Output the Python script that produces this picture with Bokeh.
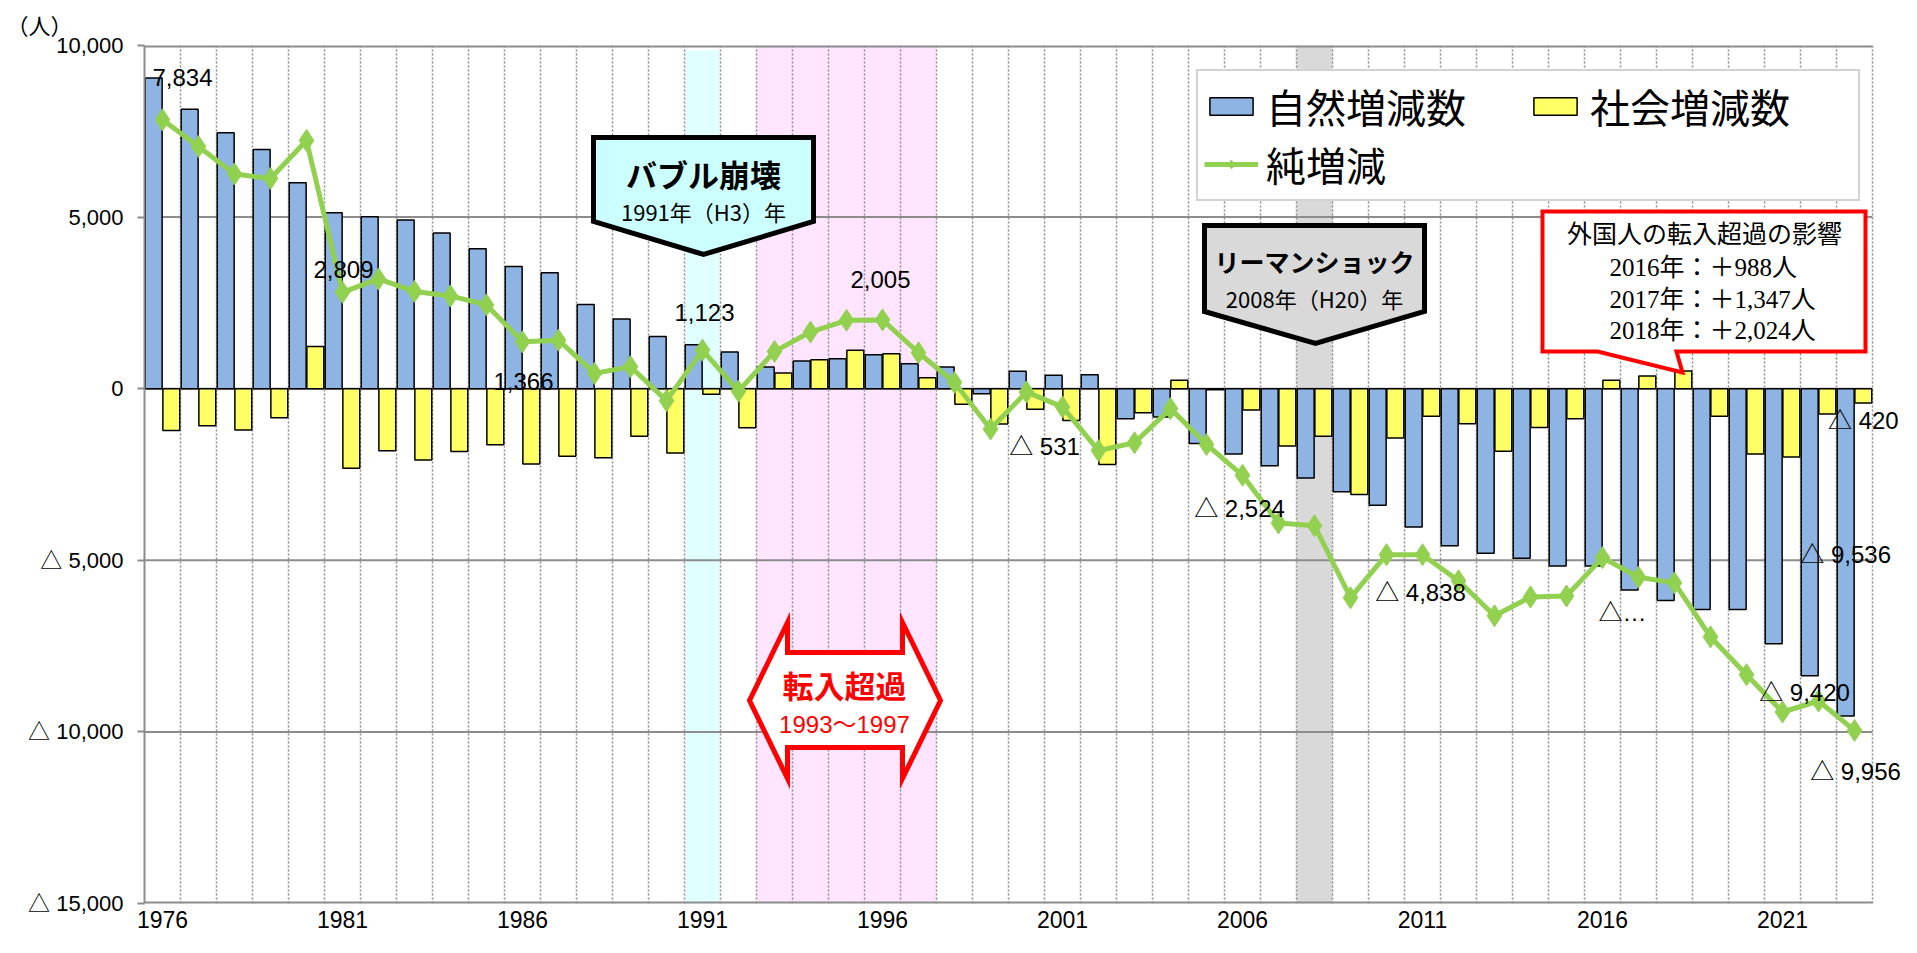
from bokeh.plotting import figure
from bokeh.models import (Range1d, FixedTicker, ColumnDataSource, Legend, LegendItem,
                          PolyAnnotation, Label, BoxAnnotation)
from bokeh.transform import dodge
from bokeh.core.properties import value
from bokeh.embed import file_html
from bokeh.resources import INLINE

# ---------------- data ----------------
years = list(range(1976, 2024))
natural = [9050, 8140, 7460, 6970, 6000, 5124, 5010, 4913, 4534, 4078,
           3557, 3379, 2456, 2029, 1524, 1282, 1068, 631, 806, 874,
           990, 728, 631, -146, 505, 395, 408, -874, -823, -1595,
           -1903, -2243, -2603, -3004, -3395, -4033, -4578, -4794, -4938, -5165,
           -5165, -5864, -6173, -6430, -6430, -7428, -8364, -9536]
social = [-1216, -1080, -1204, -844, 1233, -2315, -1811, -2078, -1831, -1636,
          -2191, -1965, -2010, -1389, -1872, -159, -1140, 456, 845, 1117,
          1015, 320, -450, -1030, -600, -926, -2212, -700, 243, -30,
          -621, -1667, -1389, -3086, -1440, -805, -1020, -1821, -1132, -874,
          243, 369, 515, -802, -1903, -1992, -736, -420]
net = [7834, 7060, 6256, 6126, 7233, 2809, 3199, 2835, 2703, 2442,
       1366, 1414, 446, 640, -348, 1123, -72, 1087, 1651, 1991,
       2005, 1048, 181, -1176, -95, -531, -1804, -1574, -580, -1625,
       -2524, -3910, -3992, -6090, -4835, -4838, -5598, -6615, -6070, -6039,
       -4922, -5495, -5658, -7232, -8333, -9420, -9100, -9956]

series_names = ["自然増減数", "社会増減数", "純増減"]
x_tick_years = [1976, 1981, 1986, 1991, 1996, 2001, 2006, 2011, 2016, 2021]
x_tick_labels = ["1976", "1981", "1986", "1991", "1996", "2001", "2006", "2011", "2016", "2021"]
y_ticks = [-15000, -10000, -5000, 0, 5000, 10000]
y_tick_labels = ["△ 15,000", "△ 10,000", "△ 5,000", "0", "5,000", "10,000"]

net_label_years = [1976, 1981, 1986, 1991, 1996, 2001, 2006, 2011, 2016, 2021, 2023]
truncated_label = {2016: "△…"}
bubble_year = 1991
inflow_period = (1993, 1997)
lehman_year = 2008

# ---------------- styling / layout ----------------
JP = "Noto Sans CJK JP"
NUM = "Liberation Sans, Noto Sans CJK JP"
SERIF = "Liberation Serif, Noto Sans CJK JP"
BLUE = "#8EB4E3"
YELLOW = "#FFFF66"
GREEN = "#92D050"
GRID = "#8C8C8C"

W, H = 1900, 937
FL, FR, FT, FB = 144, 0, 45, 34
PAGE = 8
PX_PER_YEAR = 36
frame_left_px = PAGE + FL
frame_top_px = PAGE + FT
frame_w = W - FL - FR
frame_h = H - FT - FB
frame_bottom_px = frame_top_px + frame_h
X0 = years[0] - 0.5
X_END = years[-1] + 0.5                 # last category boundary
X1 = X0 + frame_w / PX_PER_YEAR         # frame runs a little further so edge labels fit
Y0, Y1 = -15000, 10000


def X(px):
    return X0 + (px - frame_left_px) / PX_PER_YEAR


def Y(py):
    return Y1 - (py - frame_top_px) * (Y1 - Y0) / frame_h


def fmt(v):
    s = f"{abs(v):,}"
    return f"△ {s}" if v < 0 else s


p = figure(width=W, height=H, output_backend="svg", toolbar_location=None,
           x_range=Range1d(X0, X1), y_range=Range1d(Y0, Y1),
           min_border_left=FL, min_border_right=FR, min_border_top=FT,
           min_border_bottom=FB)
p.outline_line_color = None
p.background_fill_color = "white"
p.border_fill_color = "white"

# unit label as title in top-left corner
p.title.text = "（人）"
p.title.align = "left"
p.title.offset = -138
p.title.standoff = 14
p.title.text_font = NUM
p.title.text_font_size = "22px"
p.title.text_font_style = "normal"
p.title.text_color = "black"

# background bands
p.add_layout(BoxAnnotation(left=bubble_year - 0.47, right=bubble_year + 0.47,
                           top=Y(58), fill_color="#E0FFFF", fill_alpha=1,
                           line_color=None, level="image"))
p.add_layout(BoxAnnotation(left=inflow_period[0] - 0.5, right=inflow_period[1] + 0.5,
                           fill_color="#FFE5FF", fill_alpha=1,
                           line_color=None, level="image"))
p.add_layout(BoxAnnotation(left=lehman_year - 0.5, right=lehman_year + 0.5,
                           fill_color="#D9D9D9", fill_alpha=1,
                           line_color=None, level="image"))

# grids: vertical dotted category boundaries
p.ygrid.grid_line_color = None
p.xgrid.ticker = FixedTicker(ticks=[y + 0.5 for y in years])
p.xgrid.grid_line_color = GRID
p.xgrid.grid_line_dash = "2 2"
p.xgrid.grid_line_width = 1.5

# horizontal gridlines and bottom axis line, ending at the last category
h_lines = [-15000, -10000, -5000, 0, 5000, 10000]
h_widths = [4, 2, 2, 2, 2, 4]
p.segment(x0=[X0] * len(h_lines), x1=[X_END] * len(h_lines), y0=h_lines, y1=h_lines,
          line_color=GRID, line_width=h_widths, level="underlay")

# axes
p.yaxis.ticker = FixedTicker(ticks=y_ticks)
p.yaxis.major_label_overrides = {t: l for t, l in zip(y_ticks, y_tick_labels)}
p.yaxis.axis_line_color = GRID
p.yaxis.axis_line_width = 2
p.yaxis.major_tick_line_color = GRID
p.yaxis.major_tick_line_width = 2
p.yaxis.major_tick_out = 7
p.yaxis.major_tick_in = 0
p.yaxis.minor_tick_out = 0
p.yaxis.minor_tick_in = 0
p.yaxis.major_label_text_font = NUM
p.yaxis.major_label_text_font_size = "22px"
p.yaxis.major_label_text_color = "black"
p.yaxis.major_label_standoff = 14

p.xaxis.ticker = FixedTicker(ticks=x_tick_years)
p.xaxis.major_label_overrides = {t: l for t, l in zip(x_tick_years, x_tick_labels)}
p.xaxis.axis_line_color = None
p.xaxis.major_tick_out = 0
p.xaxis.major_tick_in = 0
p.xaxis.minor_tick_out = 0
p.xaxis.minor_tick_in = 0
p.xaxis.major_label_text_font = NUM
p.xaxis.major_label_text_font_size = "23px"
p.xaxis.major_label_text_color = "black"
p.xaxis.major_label_standoff = 7

# data
src = ColumnDataSource(dict(year=years, natural=natural, social=social, net=net))
r_nat = p.vbar(x=dodge("year", -0.245, range=p.x_range), top="natural", bottom=0,
               width=0.47, fill_color=BLUE, line_color="black", line_width=1.5,
               source=src)
r_soc = p.vbar(x=dodge("year", 0.245, range=p.x_range), top="social", bottom=0,
               width=0.47, fill_color=YELLOW, line_color="black", line_width=1.5,
               source=src)
r_line = p.line("year", "net", line_color=GREEN, line_width=5, source=src)
r_pts = p.scatter("year", "net", marker="diamond", size=22, fill_color=GREEN,
                  line_color=GREEN, source=src)

# data labels on the net line
idx = [years.index(y) for y in net_label_years]
lab_dx = [20, 1, 1, 2, -2, -18, -3, -2, 20, 22, 1]
lab_dy = [-42, -23, 40, -38, -40, 40, 33, 38, 55, -19, 41]
lab_src = ColumnDataSource(dict(
    x=[years[i] for i in idx],
    y=[net[i] for i in idx],
    text=[truncated_label.get(years[i], fmt(net[i])) for i in idx],
    dx=lab_dx, dy=lab_dy))
p.text("x", "y", text="text", x_offset="dx", y_offset="dy", source=lab_src,
       text_font=value(NUM), text_font_size="24px", text_color="black",
       text_align="center", text_baseline="middle")

# data labels on the last bars
last = len(years) - 1
bar_src = ColumnDataSource(dict(
    x=[years[last] - 0.245, years[last] + 0.245],
    y=[natural[last] / 2, social[last]],
    text=[fmt(natural[last]), fmt(social[last])],
    dy=[2, 17]))
p.text("x", "y", text="text", y_offset="dy", source=bar_src,
       text_font=value(NUM), text_font_size="24px", text_color="black",
       text_align="center", text_baseline="middle")

# legend (location = bottom-left corner, measured from the frame's bottom-left)
legend = Legend(items=[LegendItem(label=series_names[0], renderers=[r_nat]),
                       LegendItem(label=series_names[1], renderers=[r_soc]),
                       LegendItem(label=series_names[2], renderers=[r_line, r_pts])],
                location=(1204 - frame_left_px, frame_bottom_px - 209),
                ncols=2, orientation="horizontal")
legend.label_text_font = JP
legend.label_text_font_size = "40px"
legend.label_text_color = "black"
legend.glyph_width = 54
legend.glyph_height = 22
legend.label_standoff = 8
legend.label_width = 262
legend.spacing = 0
legend.padding = 6
legend.border_line_color = "#A6A6A6"
legend.border_line_width = 2.5
legend.background_fill_color = "white"
legend.background_fill_alpha = 1
p.add_layout(legend)


def poly(points, fill, line, lw):
    return PolyAnnotation(xs=[X(a) for a, b in points], ys=[Y(b) for a, b in points],
                          fill_color=fill, fill_alpha=1, line_color=line, line_alpha=1,
                          line_width=lw, line_join="miter")


def label(px, py, text, size, font=JP, color="black", bold=False, align="center"):
    return Label(x=X(px), y=Y(py), text=text, text_font=font,
                 text_font_size=f"{size}px", text_color=color,
                 text_font_style="bold" if bold else "normal",
                 text_align=align, text_baseline="middle")


# バブル崩壊 callout
p.add_layout(poly([(601, 145), (821, 145), (821, 229), (711, 262), (601, 229)],
                  "#CCFFFF", "black", 5))
p.add_layout(label(711, 181, "バブル崩壊", 31, bold=True))
p.add_layout(label(711, 218, "1991年（H3）年", 22))

# リーマンショック callout
p.add_layout(poly([(1212, 233), (1432, 233), (1432, 319), (1323, 351), (1212, 319)],
                  "#D9D9D9", "black", 5))
p.add_layout(label(1322, 268, "リーマンショック", 25, bold=True))
p.add_layout(label(1322, 305, "2008年（H20）年", 22))

# 外国人 callout
p.add_layout(poly([(1550, 219), (1873, 219), (1873, 359), (1684, 359), (1690, 380),
                   (1605, 359), (1550, 359)], "white", "#FF0000", 4))
p.add_layout(label(1712, 242, "外国人の転入超過の影響", 25, font=SERIF))
p.add_layout(label(1617, 275, "2016年：＋988人", 25, font=SERIF, align="left"))
p.add_layout(label(1617, 307, "2017年：＋1,347人", 25, font=SERIF, align="left"))
p.add_layout(label(1617, 338, "2018年：＋2,024人", 25, font=SERIF, align="left"))

# 転入超過 double arrow
p.add_layout(poly([(757, 708), (795, 630), (795, 660), (910, 660), (910, 630),
                   (948, 708), (910, 786), (910, 755), (795, 755), (795, 786)],
                  "white", "#FF0000", 5))
p.add_layout(label(852, 692, "転入超過", 31, color="#FF0000", bold=True))
p.add_layout(label(852, 732, "1993～1997", 24, font=NUM, color="#FF0000"))

open("out.html", "w").write(file_html(p, INLINE))
